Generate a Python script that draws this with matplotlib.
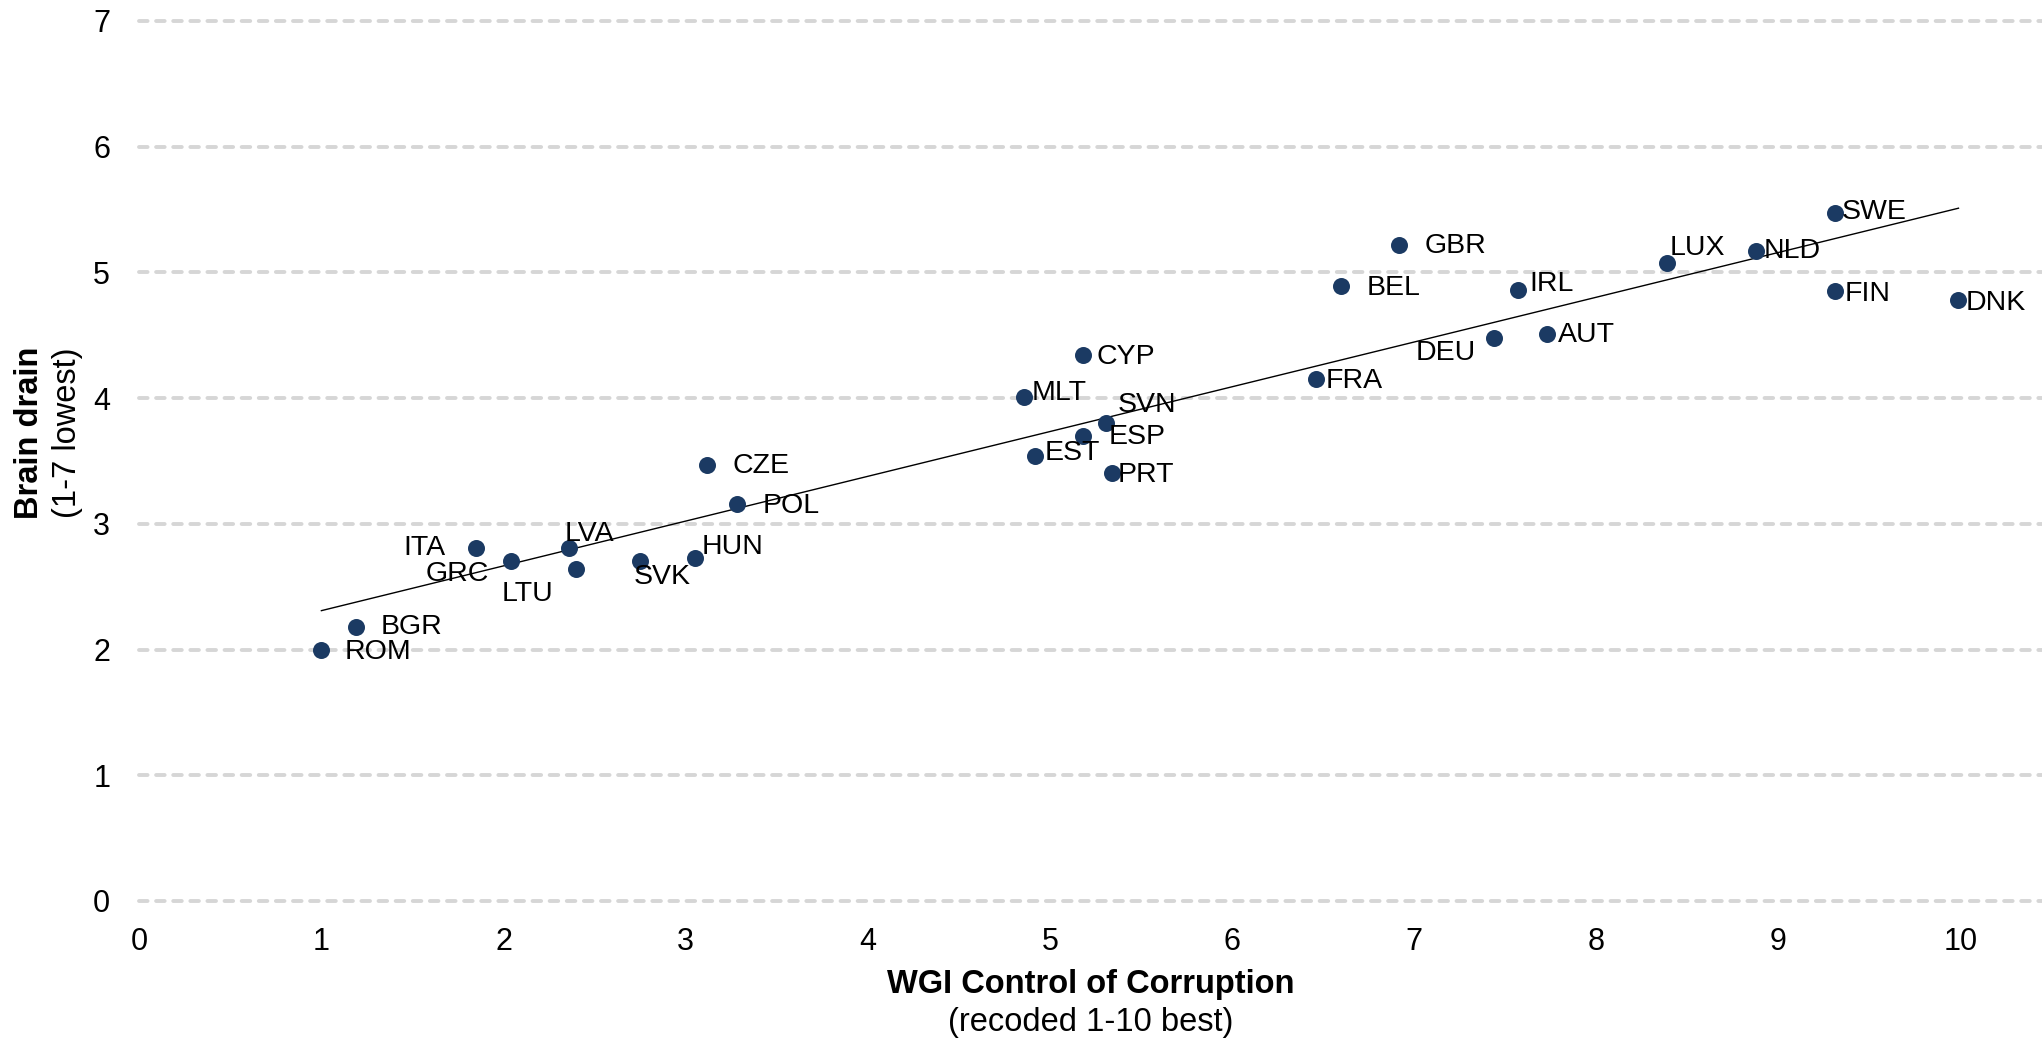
import numpy as np
import matplotlib
matplotlib.use("Agg")
import matplotlib.pyplot as plt

plt.rcParams['font.family'] = ['Liberation Sans', 'DejaVu Sans']

countries = ["ROM", "BGR", "ITA", "GRC", "LVA", "LTU", "SVK", "HUN", "CZE", "POL",
             "MLT", "EST", "CYP", "ESP", "SVN", "PRT", "FRA", "BEL", "GBR", "DEU",
             "IRL", "AUT", "LUX", "NLD", "SWE", "FIN", "DNK"]
wgi = [1.00, 1.19, 1.85, 2.04, 2.36, 2.40, 2.75, 3.05, 3.12, 3.28,
       4.86, 4.92, 5.18, 5.18, 5.31, 5.34, 6.46, 6.60, 6.92, 7.44,
       7.57, 7.73, 8.39, 8.88, 9.31, 9.31, 9.99]
brain = [2.00, 2.18, 2.81, 2.70, 2.81, 2.64, 2.70, 2.73, 3.47, 3.16,
         4.01, 3.54, 4.34, 3.70, 3.80, 3.40, 4.15, 4.89, 5.22, 4.48,
         4.86, 4.51, 5.07, 5.17, 5.47, 4.85, 4.78]
x_ticks = list(range(0, 11))
y_ticks = list(range(0, 8))

# label offsets in points (dx, dy, ha)
offsets = {
    "ROM": (17, -2, "left"), "BGR": (18, 0, "left"), "ITA": (-22, 0, "right"),
    "GRC": (-16, -9, "right"), "LVA": (15, 10, "center"), "LTU": (-35, -18, "center"),
    "SVK": (16, -11, "center"), "HUN": (5, 8, "left"), "CZE": (18, -1, "left"),
    "POL": (19, -2, "left"), "MLT": (5, 3, "left"), "EST": (7, 2, "left"),
    "CYP": (10, -1, "left"), "ESP": (19, -1, "left"), "SVN": (8, 13, "left"),
    "PRT": (4, -1, "left"), "FRA": (7, -1, "left"), "BEL": (18, -1, "left"),
    "GBR": (18, -1, "left"), "DEU": (-13, -11, "right"), "IRL": (8, 4, "left"),
    "AUT": (8, -1, "left"), "LUX": (2, 11, "left"), "NLD": (5, 0, "left"),
    "SWE": (5, 1, "left"), "FIN": (7, -2, "left"), "DNK": (5, -2, "left"),
}

W, H = 2042, 1038
fig = plt.figure(figsize=(W / 100, H / 100), dpi=100)
x0, x1 = 139.3, 2042
y0, y7 = 901, 20.8
ax = fig.add_axes([x0 / W, 1 - y0 / H, (x1 - x0) / W, (y0 - y7) / H])
ax.set_xlim(0, (x1 - x0) / 182.1)
ax.set_ylim(0, 7)

for s in ax.spines.values():
    s.set_visible(False)
ax.set_xticks(x_ticks)
ax.set_yticks(y_ticks)
ax.tick_params(axis='both', length=0, labelsize=22)
ax.tick_params(axis='x', pad=19)
ax.tick_params(axis='y', pad=21)

ax.set_axisbelow(True)
ax.yaxis.grid(True, color='#D6D6D6', linewidth=2.8, linestyle=(0, (2.2, 2.2)))
ax.xaxis.grid(False)
for gl in ax.get_ygridlines():
    gl.set_clip_on(False)
    gl.set_dash_capstyle('round')

# trend line
coef = np.polyfit(wgi, brain, 1)
xs = np.array([min(wgi), max(wgi)])
ax.plot(xs, np.polyval(coef, xs), color='black', linewidth=1.0, zorder=2)

ax.scatter(wgi, brain, s=150, color='#1B3A63', zorder=3, linewidths=0)

for c, xv, yv in zip(countries, wgi, brain):
    dx, dy, ha = offsets[c]
    ax.annotate(c, (xv, yv), xytext=(dx, dy), textcoords='offset points',
                ha=ha, va='center', fontsize=20.5, color='black', zorder=4)

cx = (x0 + x1) / 2 / W
fig.text(cx, 1 - 985 / H, "WGI Control of Corruption", ha='center', va='center',
         fontsize=23.5, fontweight='bold')
fig.text(cx, 1 - 1022 / H, "(recoded 1-10 best)", ha='center', va='center',
         fontsize=23.5)
fig.text(30 / W, 1 - 433 / H, "Brain drain", ha='center', va='center',
         fontsize=23.5, fontweight='bold', rotation=90)
fig.text(67 / W, 1 - 433 / H, "(1-7 lowest)", ha='center', va='center',
         fontsize=23.5, rotation=90)

fig.savefig("out.png", dpi=100)
